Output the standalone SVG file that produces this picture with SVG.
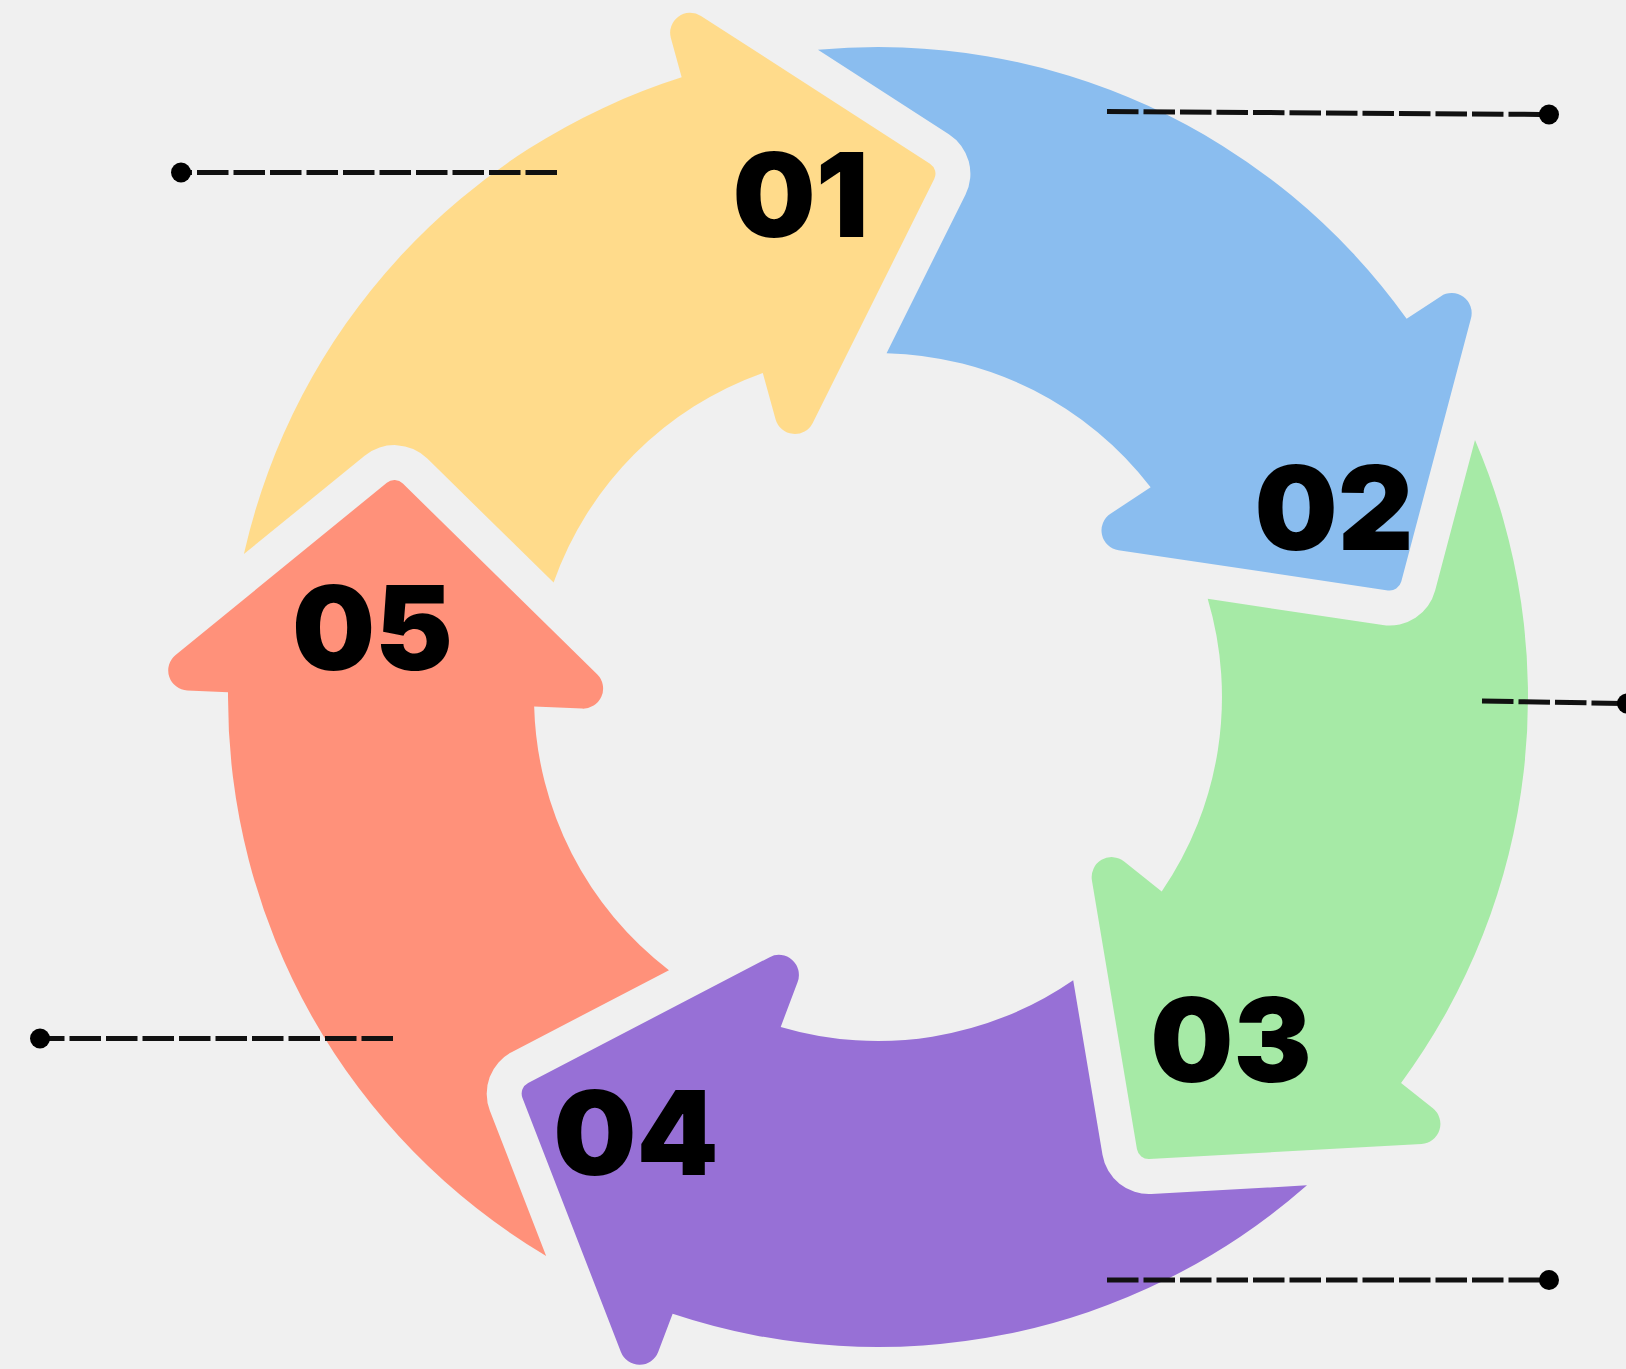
<svg xmlns="http://www.w3.org/2000/svg" width="1626" height="1369" viewBox="0 0 1626 1369">
  <style>
    .bg { fill: #F0F0F0; }
    .num { font-family: Inter, "Open Sans", "Noto Sans", sans-serif; font-weight: 900; font-size: 117px; fill: #000000; text-anchor: middle; }
    .lead { stroke: #111111; stroke-width: 5; stroke-dasharray: 31.5 5; fill: none; }
    .dot { fill: #000000; }
  </style>
  <defs>
    <path id="arrowShape" d="M -634.1 -142.9 A 650 650 0 0 1 -196.35 -619.63 L -207.14 -658.93 A 20 20 0 0 1 -177.02 -681.03 L 51.97 -533.33 A 12 12 0 0 1 56.21 -517.88 L -65.27 -274.12 A 20 20 0 0 1 -102.45 -277.74 L -115.2 -324.1 A 344 344 0 0 0 -324.4 -114.4 L -450.68 -238.39 A 47 47 0 0 0 -513.35 -241.3 Z"/>
  </defs>
  <rect class="bg" x="0" y="0" width="1626" height="1369"/>

  <g id="step-01">
    <use href="#arrowShape" transform="translate(878 697) rotate(0)" fill="#FFDB8B"/>
    <text class="num" x="800.5" y="236.7">01</text>
  </g>
  <g id="step-02">
    <use href="#arrowShape" transform="translate(878 697) rotate(72)" fill="#8ABDEF"/>
    <text class="num" x="1334" y="550">02</text>
  </g>
  <g id="step-03">
    <use href="#arrowShape" transform="translate(878 697) rotate(144)" fill="#A6EAA6"/>
    <text class="num" x="1231" y="1082">03</text>
  </g>
  <g id="step-04">
    <use href="#arrowShape" transform="translate(878 697) rotate(216)" fill="#9770D6"/>
    <text class="num" x="636" y="1175">04</text>
  </g>
  <g id="step-05">
    <use href="#arrowShape" transform="translate(878 697) rotate(288)" fill="#FF917A"/>
    <text class="num" x="372.5" y="670">05</text>
  </g>

  <g id="connectors">
    <line class="lead" x1="557" y1="172.5" x2="181" y2="172.5"/>
    <circle class="dot" cx="181" cy="172.5" r="10"/>
    <line class="lead" x1="1107" y1="111.5" x2="1549" y2="114.5"/>
    <circle class="dot" cx="1549" cy="114.5" r="10"/>
    <line class="lead" x1="1482" y1="701" x2="1627" y2="703.5"/>
    <circle class="dot" cx="1627" cy="703.5" r="10"/>
    <line class="lead" x1="393" y1="1038.5" x2="40" y2="1038.5"/>
    <circle class="dot" cx="40" cy="1038.5" r="10"/>
    <line class="lead" x1="1107" y1="1280" x2="1549" y2="1280"/>
    <circle class="dot" cx="1549" cy="1280" r="10"/>
  </g>
</svg>
